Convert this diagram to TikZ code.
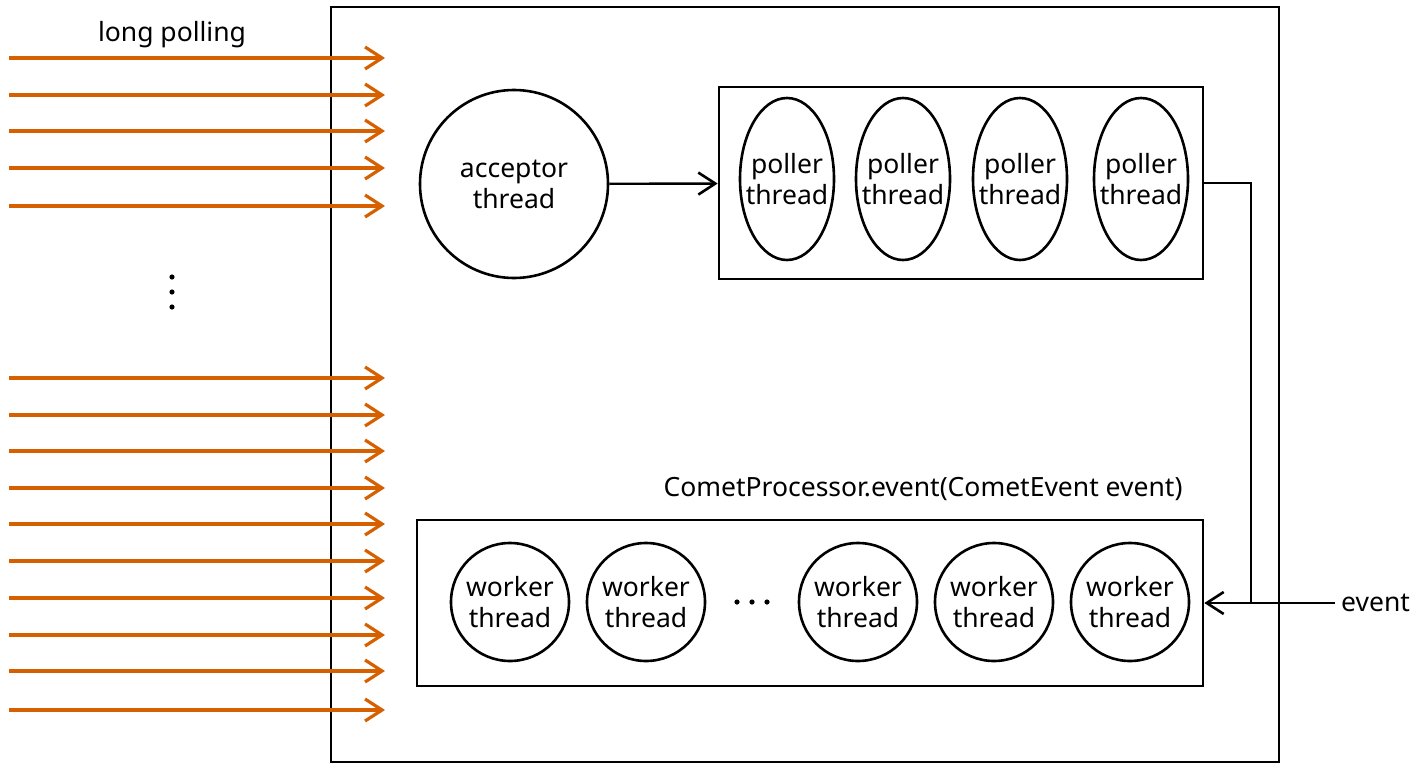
\documentclass[tikz,border=0pt]{standalone}
\usepackage{fontspec}
\setmainfont{Noto Sans}
\usetikzlibrary{arrows.meta,positioning,shapes.geometric}

\definecolor{pollorange}{RGB}{214,96,0}
% keeps a line of text from widening its ellipse
\newcommand{\narrow}[1]{\makebox[0pt]{#1}}

\begin{document}
\begin{tikzpicture}[x=1pt,y=-1pt]
    \tikzset{
      every node/.style={font=\fontsize{26.5}{31}\selectfont},
      pool/.style={draw, rectangle, line width=2.6pt, inner sep=0pt},
      acc/.style={draw, circle, line width=2.6pt, minimum size=188pt, inner sep=0pt, align=center},
      poller/.style={draw, ellipse, line width=2.6pt, minimum width=94pt, minimum height=162pt, inner sep=0pt, align=center},
      worker/.style={draw, circle, line width=2.6pt, minimum size=118pt, inner sep=0pt, align=center},
      line/.style={draw, line width=2.4pt, -{Straight Barb[length=17pt, width=22pt, line width=2.6pt]}},
      req/.style={draw=pollorange, line width=3.2pt, -{Straight Barb[length=17pt, width=22pt, line width=3.2pt]}}
    }
    \useasboundingbox (0,0) rectangle (1417,763);

    % server
    \draw[line width=2.6pt] (331,7) rectangle (1279,762);

    % incoming requests
    \node (lp) at (172,35) {long polling};
    \foreach \y in {58,95,131,168,206,378,415,451,488,524,561,598,635,671,710}
      \path [req] (9,\y) -- (385,\y);
    \foreach \y in {277,292,307}
      \fill (172,\y) circle (2.6);

    % acceptor and pollers
    \node [acc] (acceptor) at (514,184) {acceptor\\thread};
    \node [pool, minimum width=484pt, minimum height=192pt] (pollpool) at (961,183) {};
    \node [poller] (p1) at (787,179) {\narrow{poller}\\\narrow{thread}};
    \node [poller] (p2) at (903,179) {\narrow{poller}\\\narrow{thread}};
    \node [poller] (p3) at (1020,179) {\narrow{poller}\\\narrow{thread}};
    \node [poller] (p4) at (1141,179) {\narrow{poller}\\\narrow{thread}};

    % workers
    \node (proc) at (923,489) {CometProcessor.event(CometEvent event)};
    \node [pool, minimum width=786pt, minimum height=166pt] (workpool) at (810,603) {};
    \node [worker] (w1) at (510,602) {worker\\thread};
    \node [worker] (w2) at (646,602) {worker\\thread};
    \foreach \x in {737,752,767}
      \fill (\x,602) circle (2.6);
    \node [worker] (w3) at (858,602) {worker\\thread};
    \node [worker] (w4) at (994,602) {worker\\thread};
    \node [worker] (w5) at (1130,602) {worker\\thread};

    \node [anchor=west, inner sep=6pt] (event) at (1335,603) {event};
    \coordinate (bend) at (1251,183);

    \path [line] (acceptor) -- (pollpool);
    \path [line] (pollpool.east) -- (bend) |- (workpool.east);
    \draw [line width=2.4pt] (event.west) -- (event.west -| bend);
\end{tikzpicture}
\end{document}
